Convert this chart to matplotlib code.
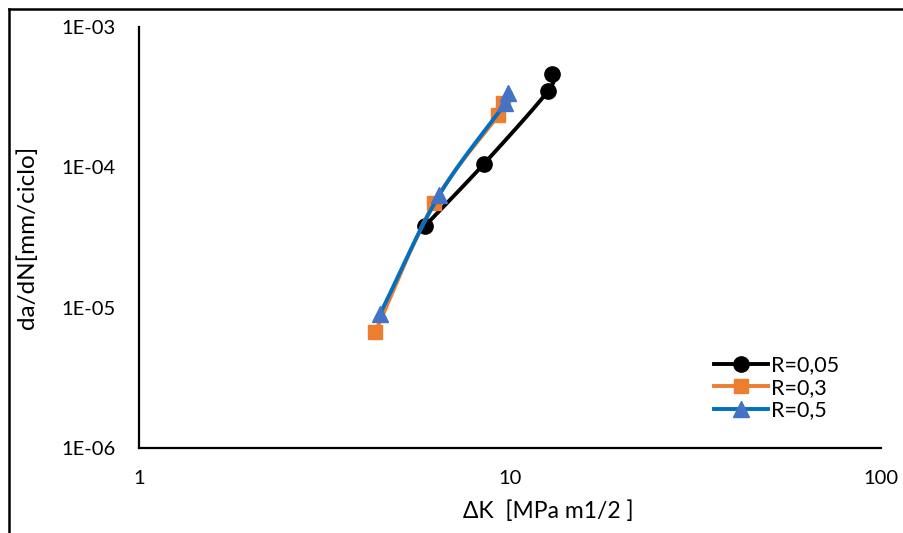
import numpy as np
import matplotlib
matplotlib.use("Agg")
import matplotlib.pyplot as plt
from matplotlib.lines import Line2D

plt.rcParams['font.family'] = ['Lato', 'DejaVu Sans']

# Data
dk_r005 = [5.90, 8.51, 12.66, 12.98]
da_r005 = [3.82e-5, 1.06e-4, 3.5e-4, 4.63e-4]
dk_r03 = [4.33, 6.25, 9.30, 9.59]
da_r03 = [6.7e-6, 5.6e-5, 2.36e-4, 2.86e-4]
dk_r05 = [4.46, 6.45, 9.70, 9.89]
da_r05 = [9.0e-6, 6.36e-5, 2.86e-4, 3.41e-4]
labels = ['R=0,05', 'R=0,3', 'R=0,5']
xticks = [1, 10, 100]
xticklabels = ['1', '10', '100']
yticks = [1e-6, 1e-5, 1e-4, 1e-3]
yticklabels = ['1E-06', '1E-05', '1E-04', '1E-03']


def smooth(x, y, n=30):
    """Catmull-Rom smoothing in log space (rendering of an Excel smoothed line)."""
    lx = np.log10(np.asarray(x, float))
    ly = np.log10(np.asarray(y, float))
    P = np.column_stack([lx, ly])
    P = np.vstack([P[0] - (P[1] - P[0]), P, P[-1] + (P[-1] - P[-2])])
    out = []
    for i in range(1, len(P) - 2):
        p0, p1, p2, p3 = P[i - 1], P[i], P[i + 1], P[i + 2]
        t = np.linspace(0, 1, n)[:, None]
        seg = 0.5 * ((2 * p1) + (-p0 + p2) * t + (2 * p0 - 5 * p1 + 4 * p2 - p3) * t ** 2
                     + (-p0 + 3 * p1 - 3 * p2 + p3) * t ** 3)
        out.append(seg if i == 1 else seg[1:])
    out = np.vstack(out)
    return 10 ** out[:, 0], 10 ** out[:, 1]


fig = plt.figure(figsize=(9.04, 5.33), dpi=100)
ax = fig.add_axes([139 / 904, 1 - 448 / 533, (881 - 139) / 904, (448 - 27) / 533])

series = [
    (dk_r005, da_r005, 'black', 'black', 'o', 11),
    (dk_r03, da_r03, '#ED7D31', '#ED7D31', 's', 10),
    (dk_r05, da_r05, '#0070C0', '#4472C4', '^', 11),
]
for (x, y, lc, mc, mk, ms), lab in zip(series, labels):
    sx, sy = smooth(x, y)
    ax.plot(sx, sy, color=lc, lw=2.8, solid_capstyle='round')
    ax.plot(x, y, linestyle='none', marker=mk, markersize=ms, color=mc, markeredgecolor=mc)
    ax.plot([], [], color=lc, lw=2.8, marker=mk, markersize=ms, markerfacecolor=mc,
            markeredgecolor=mc, label=lab)

ax.set_xscale('log')
ax.set_yscale('log')
ax.set_xlim(1, 100)
ax.set_ylim(1e-6, 1e-3)
ax.set_xticks(xticks)
ax.set_xticklabels(xticklabels)
ax.set_yticks(yticks)
ax.set_yticklabels(yticklabels)
ax.minorticks_off()
ax.tick_params(axis='both', length=0, labelsize=14.5, colors='black')
ax.tick_params(axis='x', pad=16)
ax.tick_params(axis='y', pad=17)
for s in ['top', 'right']:
    ax.spines[s].set_visible(False)
for s in ['left', 'bottom']:
    ax.spines[s].set_linewidth(1.6)
    ax.spines[s].set_color('black')

ax.set_xlabel('ΔK  [MPa m1/2 ]', fontsize=16.5, va='top')
ax.xaxis.set_label_coords((548 - 139) / (881 - 139), -(500 - 448) / (448 - 27))
ax.set_ylabel('da/dN[mm/ciclo]', fontsize=17.5, va='center')
ax.yaxis.set_label_coords(-(139 - 27) / (881 - 139), 0.5)

handles, labs = ax.get_legend_handles_labels()
ax.legend(handles, labs, loc='lower right', bbox_to_anchor=(0.97, 0.02), frameon=False,
          fontsize=15.5, handlelength=2.5, handletextpad=0.15, labelspacing=0.12)

# outer chart border (left and top visible)
fig.add_artist(Line2D([9 / 904, 9 / 904], [0, 1 - 9 / 533], transform=fig.transFigure,
                      color='black', lw=1.8))
fig.add_artist(Line2D([9 / 904, 1], [1 - 9 / 533, 1 - 9 / 533], transform=fig.transFigure,
                      color='black', lw=1.8))

fig.savefig('out.png', dpi=100)
